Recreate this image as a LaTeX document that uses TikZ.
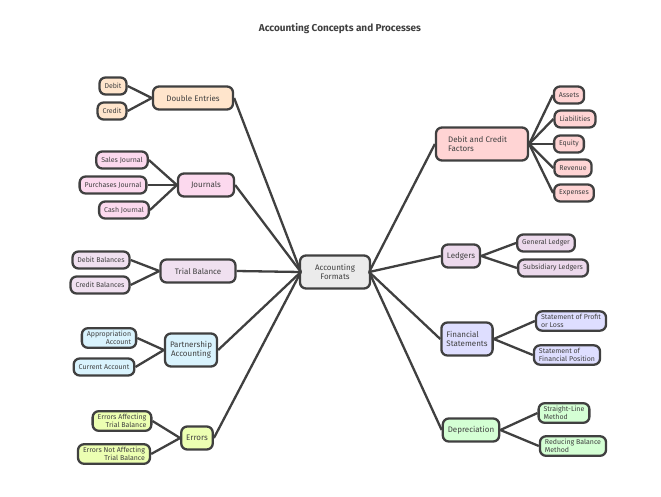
\documentclass[tikz,border=0pt]{standalone}
\usepackage{fontspec}
\setmainfont{Fira Sans}
\begin{document}
\begin{tikzpicture}[x=1pt,y=-1pt,
 box/.style={draw=black!75,line width=2.3pt,rounded corners=6pt,inner xsep=5pt,inner ysep=3pt,font=\fontsize{7}{8}\selectfont\color{black!75},minimum height=17pt},
 main/.style={box,font=\fontsize{8}{9}\selectfont\color{black!75},minimum height=23pt},
 ln/.style={draw=black!75,line width=2.3pt},
 c1/.style={fill=orange!20},c2/.style={fill=magenta!15},c3/.style={fill=violet!12},c4/.style={fill=cyan!15},c5/.style={fill=lime!30},
 r1/.style={fill=red!17},r2/.style={fill=violet!15},r3/.style={fill=blue!13},r4/.style={fill=green!17}]
\useasboundingbox (0,0) rectangle (661,496);
\node[font=\fontsize{10}{12}\selectfont\bfseries\color{black!75}] (t) at (340,29) {Accounting Concepts and Processes};
\node[main,fill=black!8,minimum width=70pt,minimum height=33pt,align=center] (c) at (335,272) {Accounting\\Formats};
\coordinate (cw) at ([xshift=2pt]c.west);
\coordinate (ce) at ([xshift=-2pt]c.east);
% left
\node[main,c1,minimum width=80pt] (de) at (193,98) {Double Entries};
\node[box,c1] (de1) at (113,86) {Debit};
\node[box,c1] (de2) at (112,111) {Credit};
\node[main,c2,minimum width=56pt] (jo) at (206,185) {Journals};
\node[box,c2] (jo1) at (122,160) {Sales Journal};
\node[box,c2] (jo2) at (113,185) {Purchases Journal};
\node[box,c2] (jo3) at (124,210) {Cash Journal};
\node[main,c3,minimum width=75pt] (tb) at (198,271) {Trial Balance};
\node[box,c3] (tb1) at (101,260) {Debit Balances};
\node[box,c3] (tb2) at (100,285) {Credit Balances};
\node[main,c4,align=center,minimum height=33pt] (pa) at (191,350) {Partnership\\Accounting};
\node[box,c4,align=right] (pa1) at (109,338) {Appropriation\\Account};
\node[box,c4] (pa2) at (104,367) {Current Account};
\node[main,c5] (er) at (197,438) {Errors};
\node[box,c5,align=right] (er1) at (122,421) {Errors Affecting\\Trial Balance};
\node[box,c5,align=right] (er2) at (114,454) {Errors Not Affecting\\Trial Balance};
% right
\node[main,r1,align=left,minimum width=92pt,minimum height=33pt] (dc) at (482,144) {Debit and Credit\\Factors\hspace*{42pt}};
\node[box,r1] (dc1) at (569,95) {Assets};
\node[box,r1] (dc2) at (575,119) {Liabilities};
\node[box,r1] (dc3) at (569,144) {Equity};
\node[box,r1] (dc4) at (573,168) {Revenue};
\node[box,r1] (dc5) at (574,193) {Expenses};
\node[main,r2] (le) at (461,256) {Ledgers};
\node[box,r2] (le1) at (546,243) {General Ledger};
\node[box,r2] (le2) at (553,268) {Subsidiary Ledgers};
\node[main,r3,align=left,minimum height=33pt] (fs) at (467,339) {Financial\\Statements};
\node[box,r3,align=left] (fs1) at (571,321) {Statement of Profit\\or Loss\hspace*{34pt}};
\node[box,r3,align=left] (fs2) at (567,355) {Statement of\\Financial Position};
\node[main,r4] (dp) at (471,430) {Depreciation};
\node[box,r4,align=left] (dp1) at (564,413) {Straight-Line\\Method};
\node[box,r4,align=left] (dp2) at (573,446) {Reducing Balance\\Method};
% connectors
\foreach \n in {de,jo,tb,pa,er} \draw[ln] (cw) -- (\n.east);
\foreach \n in {dc,le,fs,dp} \draw[ln] (ce) -- (\n.west);
\foreach \p/\l in {de/de1,de/de2,jo/jo1,jo/jo2,jo/jo3,tb/tb1,tb/tb2,pa/pa1,pa/pa2,er/er1,er/er2} \draw[ln] (\p.west) -- (\l.east);
\foreach \p/\l in {dc/dc1,dc/dc2,dc/dc3,dc/dc4,dc/dc5,le/le1,le/le2,fs/fs1,fs/fs2,dp/dp1,dp/dp2} \draw[ln] (\p.east) -- (\l.west);
\end{tikzpicture}
\end{document}
